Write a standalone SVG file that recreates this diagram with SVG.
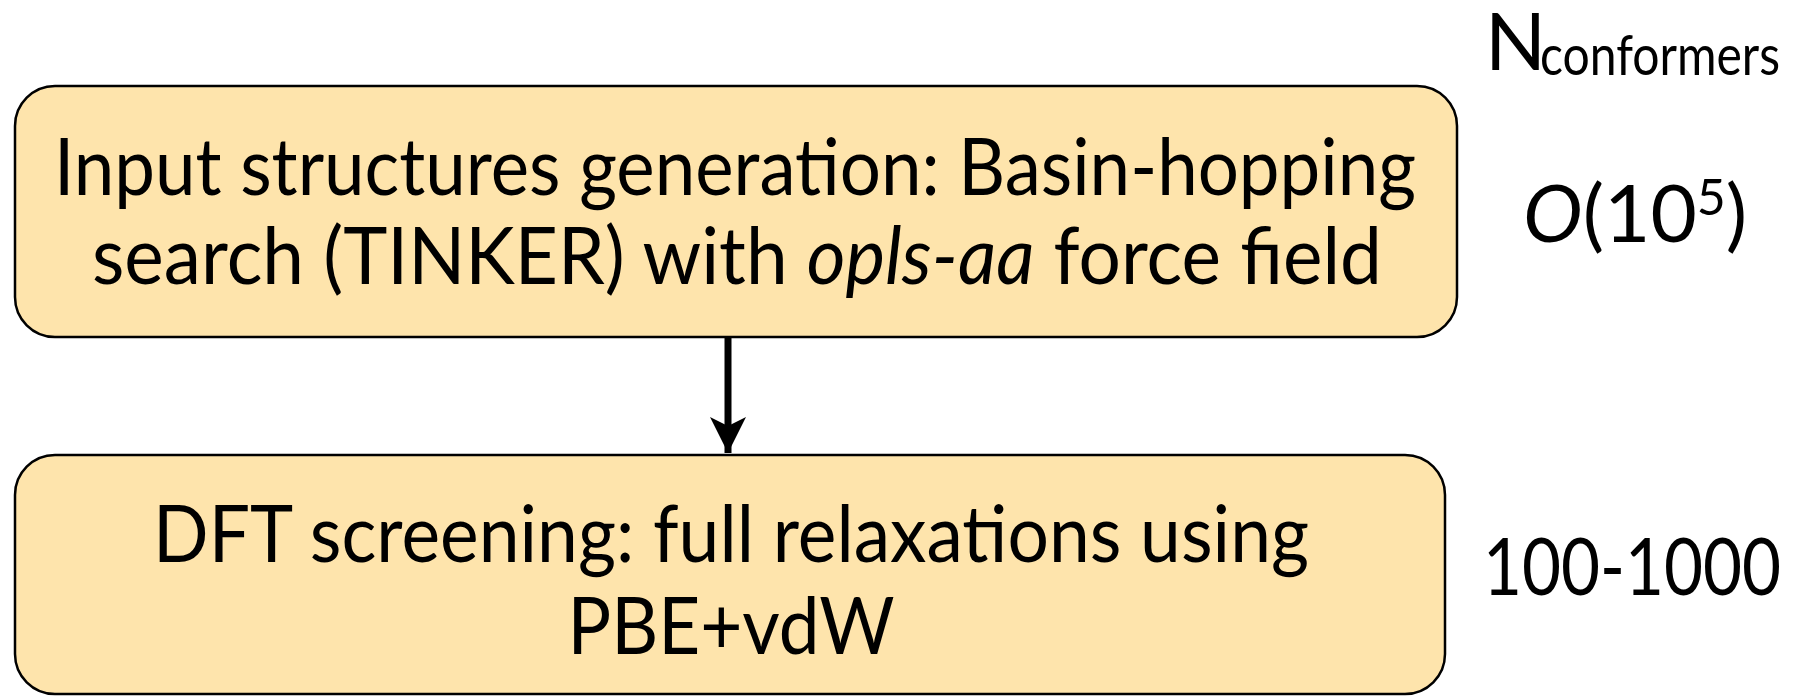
<svg xmlns="http://www.w3.org/2000/svg" width="1801" height="696" viewBox="0 0 1801 696">
  <style>
    .box { fill: #FEE4AC; stroke: #000; stroke-width: 2.5; }
    .t { font-family: Lato, "Open Sans", "Liberation Sans", sans-serif; font-size: 80px; fill: #000; }
    .sub { font-size: 56px; }
    .it { font-style: italic; }
    .link { stroke: #000; stroke-width: 7; fill: none; }
  </style>
  <defs>
    <marker id="head" markerUnits="userSpaceOnUse" markerWidth="40" markerHeight="40" viewBox="0 0 40 40" refX="36" refY="20" orient="auto">
      <path d="M0,2 L36,20 L0,38 L9,20 Z" fill="#000"/>
    </marker>
  </defs>

  <rect width="1801" height="696" fill="#fff"/>

  <!-- step 1: structure generation -->
  <g id="node-input">
    <rect class="box" x="15" y="86" width="1442" height="251" rx="40" ry="40"/>
    <text class="t" x="735" y="195" text-anchor="middle" textLength="1362" lengthAdjust="spacingAndGlyphs">Input structures generation: Basin-hopping</text>
    <text class="t" x="737" y="284" text-anchor="middle" textLength="1290" lengthAdjust="spacingAndGlyphs">search (TINKER) with <tspan class="it">opls-aa</tspan> force field</text>
  </g>

  <!-- step 2: DFT screening -->
  <g id="node-dft">
    <rect class="box" x="15" y="455" width="1430" height="239" rx="40" ry="40"/>
    <text class="t" x="731" y="562" text-anchor="middle" textLength="1156" lengthAdjust="spacingAndGlyphs">DFT screening: full relaxations using</text>
    <text class="t" x="731" y="654" text-anchor="middle" textLength="327" lengthAdjust="spacingAndGlyphs">PBE+vdW</text>
  </g>

  <!-- conformer counts -->
  <g id="label-header">
    <text class="t" x="1485" y="70">N</text>
    <text class="t sub" x="1540" y="75" textLength="240" lengthAdjust="spacingAndGlyphs">conformers</text>
  </g>
  <g id="label-count1">
    <text class="t" x="1523" y="242"><tspan class="it">O</tspan>(10<tspan font-size="50" dy="-27">5</tspan><tspan dy="27">)</tspan></text>
  </g>
  <g id="label-count2">
    <text class="t" x="1483" y="595" textLength="298" lengthAdjust="spacingAndGlyphs">100-1000</text>
  </g>

  <g id="connectors">
    <line class="link" x1="728" y1="337" x2="728" y2="453" marker-end="url(#head)"/>
  </g>
</svg>
